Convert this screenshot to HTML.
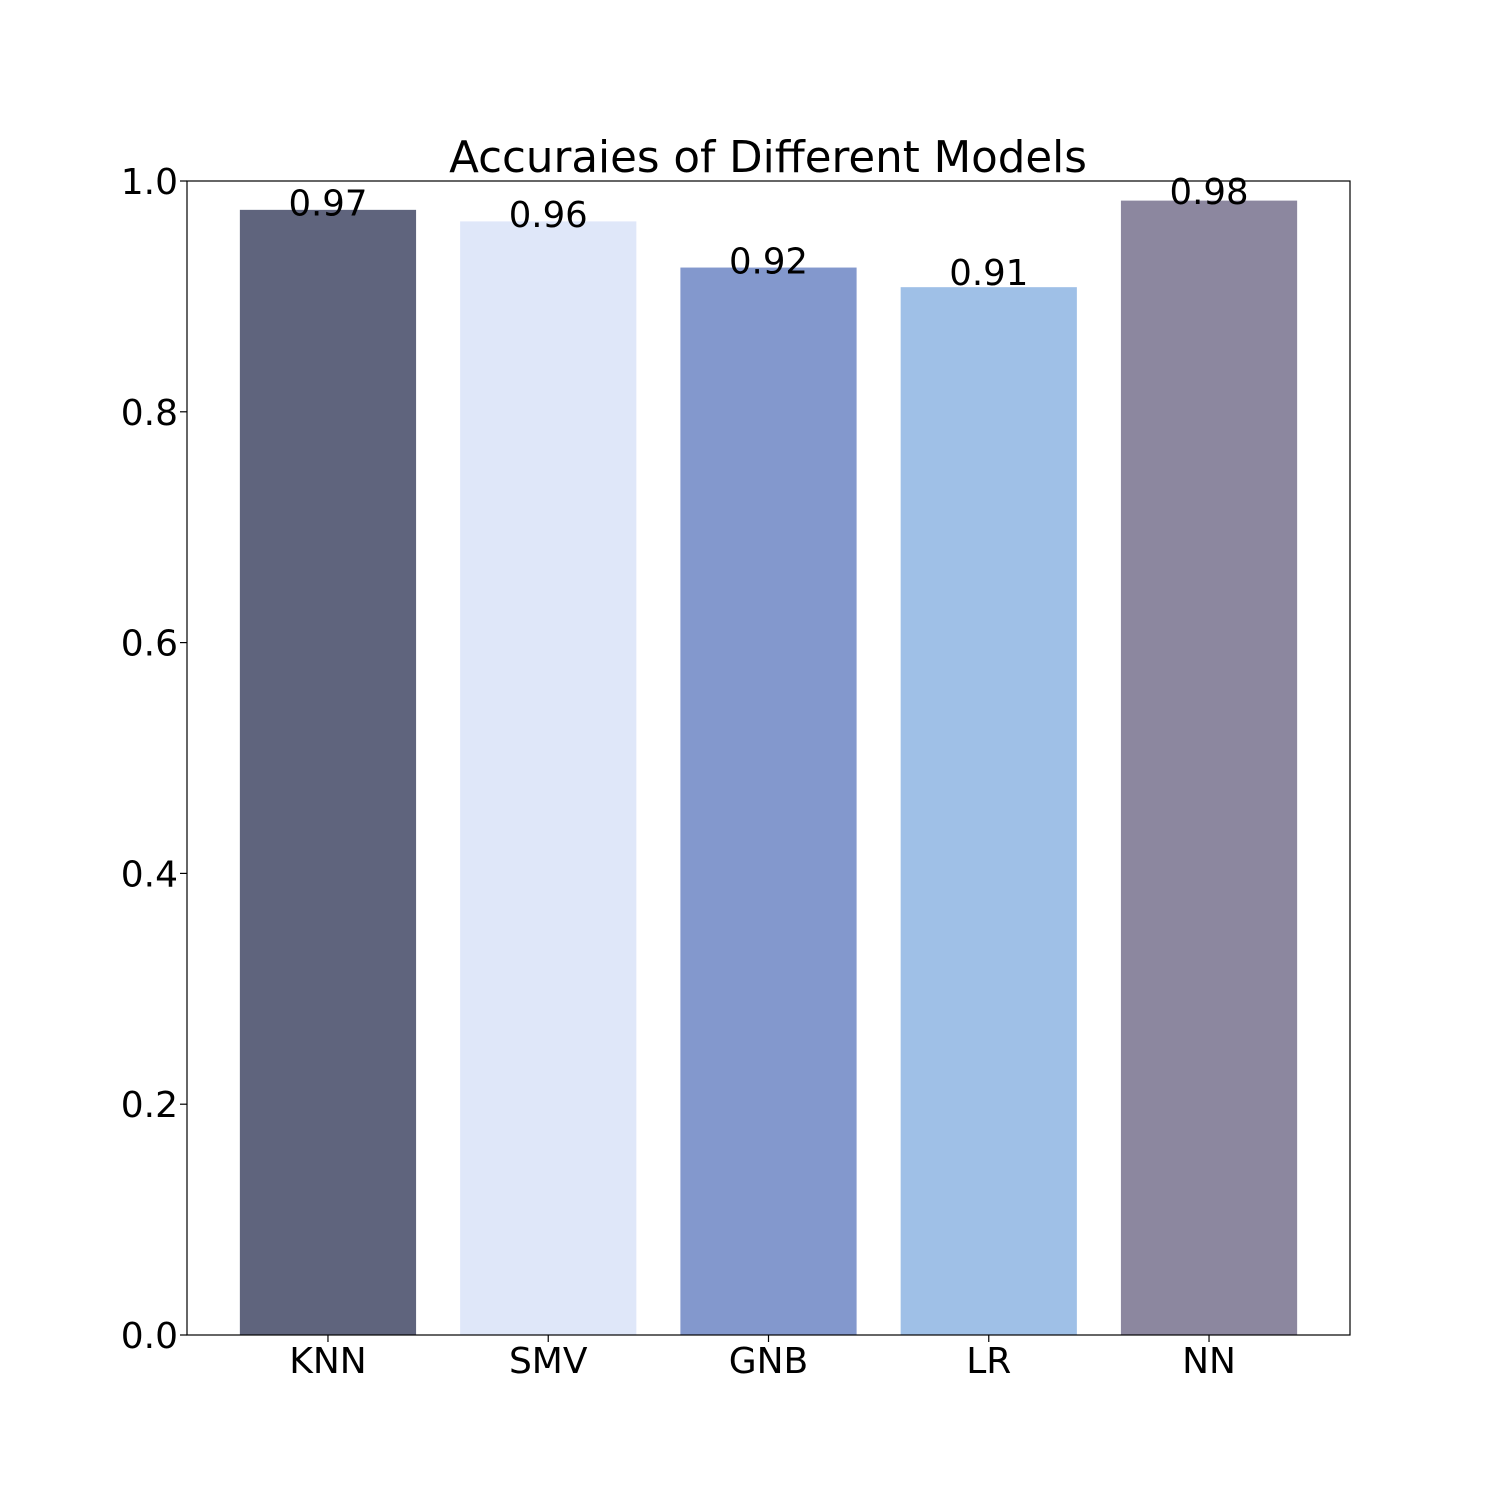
<!DOCTYPE html>
<html><head><meta charset="utf-8"><style>
html,body{margin:0;padding:0;background:#fff;}
text{font-family:"DejaVu Sans","Liberation Sans",sans-serif;fill:#000;}
</style></head><body>
<svg id="chart" width="1500" height="1500" xmlns="http://www.w3.org/2000/svg">
<text x="768" y="172" font-size="43.5" text-anchor="middle">Accuraies of Different Models</text>
<g id="bars"></g><g id="axes"></g>
<rect x="187" y="181" width="1163" height="1154" fill="none" stroke="#000" stroke-width="1.2"/>
</svg>
<script>
const categories = ["KNN","SMV","GNB","LR","NN"];
const values = [0.975, 0.965, 0.925, 0.908, 0.983];
const valueLabels = ["0.97","0.96","0.92","0.91","0.98"];
const colors = ["#5f647d","#dfe7f9","#8398cd","#9fc0e7","#8c879f"];
const yTicks = [0,0.2,0.4,0.6,0.8,1.0];
const yTickLabels = ["0.0","0.2","0.4","0.6","0.8","1.0"];
const NS="http://www.w3.org/2000/svg";
const L=187,R=1350,T=181,B=1335;
const xMin=-0.64,xMax=4.64;
function xs(i){return L+(i-xMin)/(xMax-xMin)*(R-L);}
function ys(v){return B-v*(B-T);}
function mk(tag,attrs,parent,txt){const e=document.createElementNS(NS,tag);for(const k in attrs)e.setAttribute(k,attrs[k]);if(txt!==undefined)e.textContent=txt;parent.appendChild(e);return e;}
const bars=document.getElementById('bars'),axes=document.getElementById('axes');
const bw=0.8*(R-L)/(xMax-xMin);
categories.forEach((c,i)=>{
  const b=mk('rect',{x:xs(i)-bw/2,y:ys(values[i]),width:bw,height:B-ys(values[i]),fill:colors[i]},bars);
  
  
  const t=mk('text',{x:xs(i),y:ys(parseFloat(valueLabels[i])),'font-size':35.5,'text-anchor':'middle'},bars,valueLabels[i]);
  
  
  const tk=mk('line',{x1:xs(i),x2:xs(i),y1:B,y2:B+7,stroke:'#000','stroke-width':1.2},axes);
  
  
  const xl=mk('text',{x:xs(i),y:B+38,'font-size':36,'text-anchor':'middle'},axes,c);
  
  
});
yTicks.forEach((v,i)=>{
  const tk=mk('line',{x1:L-7,x2:L,y1:ys(v),y2:ys(v),stroke:'#000','stroke-width':1.2},axes);
  
  
  const yl=mk('text',{x:L-9,y:ys(v)+13,'font-size':36,'text-anchor':'end'},axes,yTickLabels[i]);
  
  
});
</script>
</body></html>
